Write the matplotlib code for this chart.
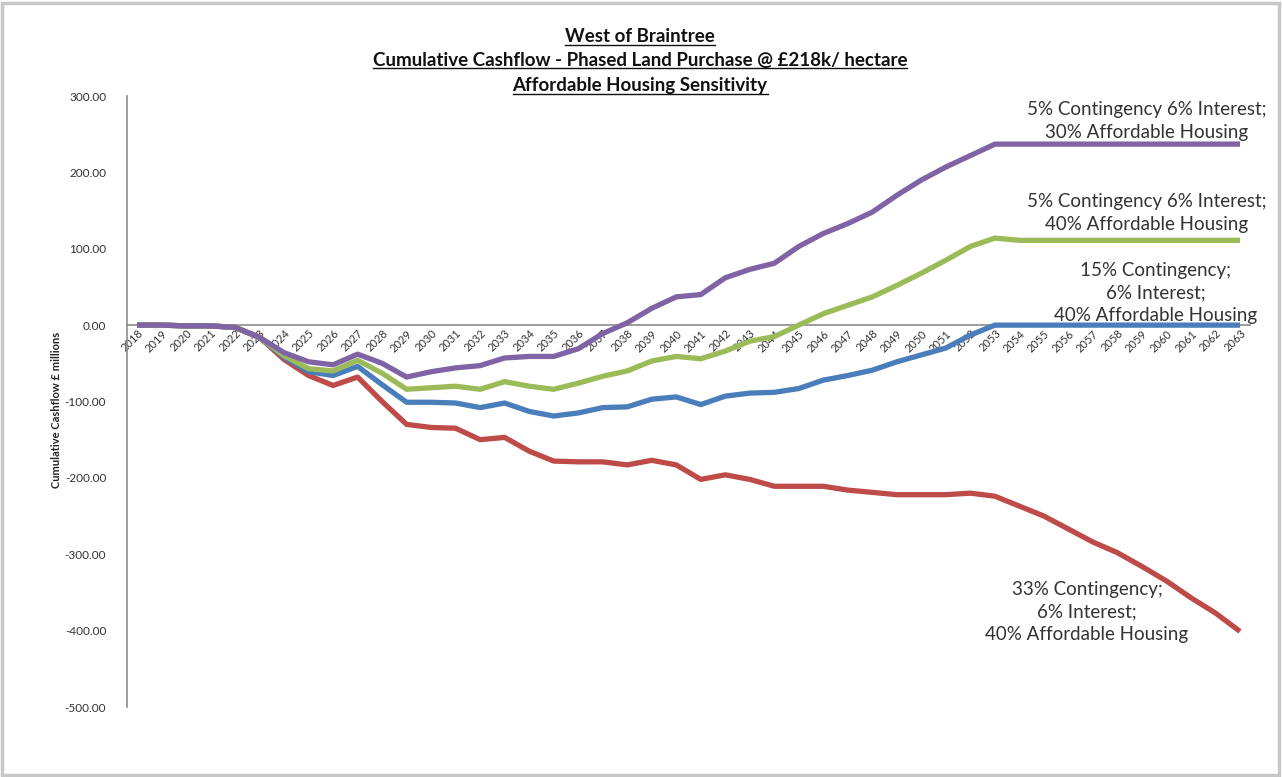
import matplotlib
matplotlib.use("Agg")
import matplotlib.pyplot as plt
from matplotlib.patches import Rectangle
from matplotlib.lines import Line2D

# Years of the cashflow model
years = list(range(2018, 2064))

# Cumulative cashflow (£ millions) per scenario
cf_33_contingency = [0, 0, -1, -1, -3, -16, -45, -66, -79, -68,
                     -100, -130, -134, -135, -150, -147, -165, -178, -179, -179,
                     -183, -177, -183, -202, -196, -202, -211, -211, -211, -216,
                     -219, -222, -222, -222, -220, -224,
                     -237, -250, -267, -284, -298, -316, -335, -357, -377, -401]
cf_15_contingency = [0, 0, -1, -1, -3, -16, -42, -61, -66, -54,
                     -78, -101, -101, -102, -108, -102, -113, -119, -115, -108,
                     -107, -97, -94, -104, -93, -89, -88, -83, -72, -66,
                     -59, -48, -39, -30, -13, 0,
                     0, 0, 0, 0, 0, 0, 0, 0, 0, 0]
cf_5_contingency_40 = [0, 0, -1, -1, -3, -16, -40, -57, -60, -46,
                       -63, -84, -82, -80, -84, -74, -80, -84, -76, -67,
                       -60, -47, -41, -44, -34, -21, -15, 0, 15, 26,
                       37, 52, 68, 85, 103, 114,
                       111, 111, 111, 111, 111, 111, 111, 111, 111, 111]
cf_5_contingency_30 = [0, 0, -1, -1, -3, -16, -36, -48, -52, -38,
                       -50, -68, -61, -56, -53, -43, -41, -41, -31, -11,
                       3, 22, 37, 40, 62, 73, 81, 103, 120, 133,
                       148, 170, 190, 207, 222, 237,
                       237, 237, 237, 237, 237, 237, 237, 237, 237, 237]

y_ticks = [300, 200, 100, 0, -100, -200, -300, -400, -500]

title_lines = ["West of Braintree",
               "Cumulative Cashflow - Phased Land Purchase @ £218k/ hectare",
               "Affordable Housing Sensitivity"]

FONT = ["Lato", "DejaVu Sans"]
plt.rcParams["font.family"] = FONT

W, H = 1282, 777
fig = plt.figure(figsize=(W / 100, H / 100), dpi=100)
fig.patch.set_facecolor("white")

# outer chart frame
fig.add_artist(Rectangle((2 / W, 2 / H), 1 - 5 / W, 1 - 5 / H, transform=fig.transFigure,
                         fill=False, edgecolor="#c8c8c8", linewidth=2.5))

ax_left, ax_right, ax_top, ax_bottom = 127, 1250, 96, 707
ax = fig.add_axes([ax_left / W, 1 - ax_bottom / H,
                   (ax_right - ax_left) / W, (ax_bottom - ax_top) / H])

series = [
    (cf_33_contingency, "#BE4B48"),
    (cf_15_contingency, "#4A7EBB"),
    (cf_5_contingency_40, "#9BBB59"),
    (cf_5_contingency_30, "#7F63A4"),
]
for values, color in series:
    ax.plot(years, values, color=color, linewidth=3.8, solid_capstyle="butt",
            solid_joinstyle="round", zorder=3)

step_px = (1240 - 137) / 45
pad = (137 - ax_left) / step_px
ax.set_xlim(2018 - pad, 2063 + pad)
ax.set_ylim(-500, 300)

ax.spines["top"].set_visible(False)
ax.spines["right"].set_visible(False)
ax.spines["bottom"].set_position(("data", 0))
for sp in ("left", "bottom"):
    ax.spines[sp].set_color("#8c8c8c")
    ax.spines[sp].set_linewidth(1.2)

ax.set_yticks(y_ticks)
ax.set_yticklabels([f"{v:.2f}" for v in y_ticks])
ax.set_xticks(years)
ax.set_xticklabels([str(y) for y in years], rotation=45, ha="right", va="top",
                   rotation_mode="anchor")
ax.tick_params(axis="y", length=0, pad=15, labelsize=8.5, labelcolor="#333333")
ax.tick_params(axis="x", length=0, pad=2, labelsize=8, labelcolor="#333333")

fig.text(57 / W, 1 - 410 / H, "Cumulative Cashflow £ millions", rotation=90,
         ha="center", va="center", fontsize=8, fontweight="bold", color="#222222")

# underlined bold title
title_y = [37, 60, 86]
title_objs = []
for line, yy in zip(title_lines, title_y):
    t = fig.text(640 / W, 1 - yy / H, line, ha="center", va="center",
                 fontsize=13.5, fontweight="bold", color="#111111")
    title_objs.append(t)

# scenario labels
label_kw = dict(ha="center", va="center", fontsize=13.5, color="#333333",
                linespacing=1.38)
fig.text(1147 / W, 1 - 121 / H, "5% Contingency 6% Interest;\n30% Affordable Housing", **label_kw)
fig.text(1147 / W, 1 - 213 / H, "5% Contingency 6% Interest;\n40% Affordable Housing", **label_kw)
fig.text(1156 / W, 1 - 293 / H, "15% Contingency;\n6% Interest;\n40% Affordable Housing", **label_kw)
fig.text(1087 / W, 1 - 612 / H, "33% Contingency;\n6% Interest;\n40% Affordable Housing", **label_kw)

fig.canvas.draw()
renderer = fig.canvas.get_renderer()
for t in title_objs:
    bb = t.get_window_extent(renderer)
    y_line = bb.y0 + 1
    fig.add_artist(Line2D([bb.x0 / W, bb.x1 / W], [y_line / H, y_line / H],
                          transform=fig.transFigure, color="#111111", linewidth=1.0))

fig.savefig("out.png", dpi=100, facecolor="white")
